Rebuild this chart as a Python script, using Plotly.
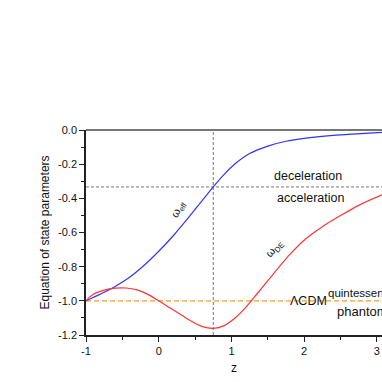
import plotly.graph_objects as go

z_eff = [-1.0, -0.8, -0.6, -0.4, -0.2, 0.0, 0.2, 0.4, 0.6, 0.75, 0.9, 1.05, 1.25, 1.5, 1.75, 2.0, 2.4, 3.07]
w_eff = [-1.0, -0.96, -0.916, -0.862, -0.792, -0.710, -0.619, -0.518, -0.412, -0.333, -0.260, -0.198, -0.138, -0.094, -0.066, -0.049, -0.032, -0.014]

z_de = [-1.0, -0.9, -0.75, -0.6, -0.45, -0.3, -0.15, 0.0, 0.15, 0.3, 0.45, 0.6, 0.75, 0.9, 1.05, 1.2, 1.35, 1.5, 1.8, 2.0, 2.25, 2.5, 2.75, 3.07]
w_de = [-1.0, -0.962, -0.937, -0.926, -0.925, -0.936, -0.962, -1.0, -1.04, -1.08, -1.12, -1.151, -1.161, -1.145, -1.10, -1.037, -0.96, -0.882, -0.73, -0.645, -0.566, -0.501, -0.441, -0.38]

z_transition = 0.75
w_transition = -1/3
w_lcdm = -1.0

x_ticks = [-1, 0, 1, 2, 3]
y_ticks = [0.0, -0.2, -0.4, -0.6, -0.8, -1.0, -1.2]
y_labels = ["0.0", "-0.2", "-0.4", "-0.6", "-0.8", "-1.0", "-1.2"]

X_RANGE = [-1, 3.07]
Y_RANGE = [-1.2, 0.0]

FONT = "Liberation Sans, Arial, sans-serif"

fig = go.Figure()
# reference lines
fig.add_trace(go.Scatter(x=X_RANGE, y=[w_transition, w_transition], mode="lines",
                         line=dict(color="#555555", width=0.8, dash="3px,2px"), hoverinfo="skip", showlegend=False))
fig.add_trace(go.Scatter(x=[z_transition, z_transition], y=Y_RANGE, mode="lines",
                         line=dict(color="#555555", width=0.8, dash="3px,2px"), hoverinfo="skip", showlegend=False))
fig.add_trace(go.Scatter(x=X_RANGE, y=[w_lcdm, w_lcdm], mode="lines",
                         line=dict(color="#FF9922", width=1.2, dash="5px,3px"), hoverinfo="skip", showlegend=False))
fig.add_trace(go.Scatter(x=z_eff, y=w_eff, mode="lines",
                         line=dict(color="#3333FF", width=1.2, shape="spline", smoothing=0.8),
                         showlegend=False))
fig.add_trace(go.Scatter(x=z_de, y=w_de, mode="lines",
                         line=dict(color="#FF3333", width=1.2, shape="spline", smoothing=0.8),
                         showlegend=False))

anns = [
    dict(x=2.05, y=-0.27, text="deceleration", font=dict(size=12.5)),
    dict(x=2.09, y=-0.40, text="acceleration", font=dict(size=12.5)),
    dict(x=2.06, y=-1.0, text="ΛCDM", font=dict(size=12.5)),
    dict(x=2.30, y=-0.955, text="quintessence", font=dict(size=11.5), xanchor="left"),
    dict(x=2.42, y=-1.065, text="phantom", font=dict(size=13), xanchor="left"),
    dict(x=0.27, y=-0.46, text="ω<sub>eff</sub>", font=dict(size=11), textangle=-62),
    dict(x=1.59, y=-0.697, text="ω<sub>DE</sub>", font=dict(size=11), textangle=-48),
]
for a in anns:
    a.setdefault("xanchor", "center")
    a["font"]["family"] = FONT
    a["font"]["color"] = "#111111"
    fig.add_annotation(xref="x", yref="y", showarrow=False, yanchor="middle", **a)

fig.add_shape(type="line", xref="paper", yref="paper", x0=0, x1=1, y0=1, y1=1,
              line=dict(color="#777777", width=2))

fig.update_layout(
    width=382, height=382,
    margin=dict(l=86, r=0, t=130, b=47),
    paper_bgcolor="white", plot_bgcolor="white",
    font=dict(family=FONT, size=11, color="#111111"),
    xaxis=dict(range=X_RANGE, tickvals=x_ticks, ticktext=[str(v) for v in x_ticks], automargin=False,
               showgrid=False, zeroline=False, showline=True, linecolor="#222222", linewidth=1.5,
               ticks="outside", ticklen=5, tickcolor="#222222",
               minor=dict(tickvals=[-0.5, 0.5, 1.5, 2.5], ticks="outside", ticklen=3, tickcolor="#222222"),
               title=dict(text="z", font=dict(size=12), standoff=8)),
    yaxis=dict(range=Y_RANGE, tickvals=y_ticks, ticktext=y_labels, automargin=False,
               showgrid=False, zeroline=False, showline=True, linecolor="#222222", linewidth=1.5,
               ticks="outside", ticklen=5, tickcolor="#222222",
               minor=dict(tickvals=[-0.1, -0.3, -0.5, -0.7, -0.9, -1.1], ticks="outside", ticklen=3,
                          tickcolor="#222222"),
               title=dict(text="Equation of state parameters", font=dict(size=12), standoff=6)),
)

fig.write_html("out.html", config={"displayModeBar": False},
               post_script="document.body.style.margin='0';document.body.style.overflow='hidden';")
